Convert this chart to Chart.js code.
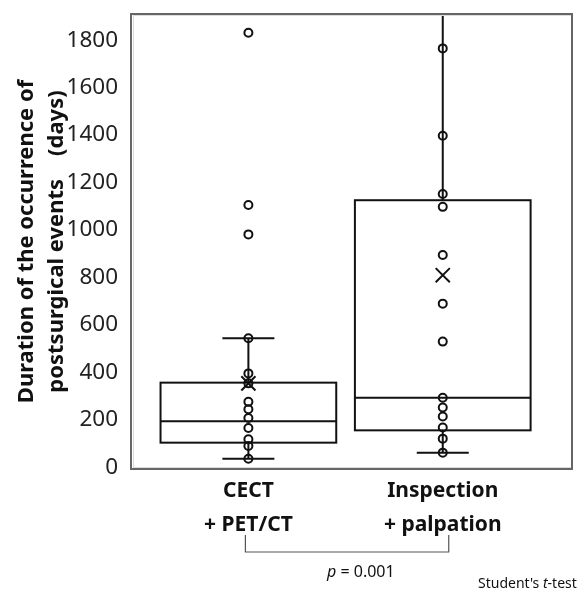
<!DOCTYPE html>
<html>
<head>
<meta charset="utf-8">
<script src="https://cdn.jsdelivr.net/npm/chart.js@4.4.1/dist/chart.umd.min.js"></script>
<style>
  html, body { margin: 0; padding: 0; background: #fff; }
  #wrap { width: 584px; height: 593px; }
</style>
</head>
<body>
<div id="wrap"><canvas id="boxChart"></canvas></div>
<script>
// Grupos y valores
const categories = [['CECT', '+ PET/CT'], ['Inspection', '+ palpation']];
const cectPoints = [1831, 1105, 981, 543, 395, 353, 275, 244, 207, 165, 117, 89, 35];
const inspectionPoints = [1765, 1397, 1151, 1097, 894, 689, 529, 292, 251, 213, 167, 120, 61];
const q1 = [103, 155];
const median = [193, 292];
const q3 = [356, 1125];
const whiskerLow = [35, 61];
const whiskerHigh = [543, 1960];
const means = [353, 809];
const yTicks = [0, 200, 400, 600, 800, 1000, 1200, 1400, 1600, 1800];
const pValue = '0.001';

const BOX_HALF = 0.452;   // media anchura de la caja (unidades de x)
const CAP_HALF = 26;      // media anchura de los bigotes (px)

// Plugin para dibujar cajas, bigotes, marco y anotaciones
const boxPlugin = {
    id: 'boxPlugin',
    beforeDatasetsDraw(chart) {
        const { ctx, chartArea, scales: { x, y } } = chart;
        ctx.save();
        ctx.beginPath();
        ctx.rect(chartArea.left, chartArea.top, chartArea.right - chartArea.left, chartArea.bottom - chartArea.top);
        ctx.clip();
        ctx.strokeStyle = '#111';
        ctx.lineWidth = 2;
        for (let i = 0; i < q1.length; i++) {
            const cx = x.getPixelForValue(i + 1);
            const left = x.getPixelForValue(i + 1 - BOX_HALF);
            const right = x.getPixelForValue(i + 1 + BOX_HALF);
            const top = y.getPixelForValue(q3[i]);
            const bottom = y.getPixelForValue(q1[i]);
            const med = y.getPixelForValue(median[i]);
            const lo = y.getPixelForValue(whiskerLow[i]);
            const hi = y.getPixelForValue(whiskerHigh[i]);

            ctx.strokeRect(left, top, right - left, bottom - top);
            ctx.beginPath();
            ctx.moveTo(left, med);
            ctx.lineTo(right, med);
            // bigotes
            ctx.moveTo(cx, top);
            ctx.lineTo(cx, hi);
            ctx.moveTo(cx - CAP_HALF, hi);
            ctx.lineTo(cx + CAP_HALF, hi);
            ctx.moveTo(cx, bottom);
            ctx.lineTo(cx, lo);
            ctx.moveTo(cx - CAP_HALF, lo);
            ctx.lineTo(cx + CAP_HALF, lo);
            ctx.stroke();
        }
        ctx.restore();
    },
    afterDraw(chart) {
        const { ctx, chartArea, scales: { x } } = chart;
        ctx.save();
        // marco del área
        ctx.strokeStyle = '#dcdcdc';
        ctx.lineWidth = 1;
        ctx.strokeRect(chartArea.left + 2.5, chartArea.top + 1.5, chartArea.right - chartArea.left - 3, chartArea.bottom - chartArea.top - 3);
        ctx.strokeStyle = '#666';
        ctx.lineWidth = 2;
        ctx.strokeRect(chartArea.left, chartArea.top, chartArea.right - chartArea.left, chartArea.bottom - chartArea.top);

        // corchete de comparación
        const x1 = x.getPixelForValue(1) - 3;
        const x2 = x.getPixelForValue(2) + 6;
        ctx.strokeStyle = '#555';
        ctx.lineWidth = 1.2;
        ctx.beginPath();
        ctx.moveTo(x1, 535);
        ctx.lineTo(x1, 552);
        ctx.lineTo(x2, 552);
        ctx.lineTo(x2, 535);
        ctx.stroke();

        // texto p
        ctx.fillStyle = '#111';
        ctx.textBaseline = 'middle';
        ctx.textAlign = 'left';
        ctx.font = 'italic 16px "Noto Sans"';
        let px = 327;
        ctx.fillText('p', px, 572);
        px += ctx.measureText('p').width;
        ctx.font = '16px "Noto Sans"';
        ctx.fillText(' = ' + pValue, px, 572);

        // nota de la prueba
        ctx.font = '14px "Noto Sans"';
        let sx = 478;
        ctx.fillText("Student's ", sx, 584);
        sx += ctx.measureText("Student's ").width;
        ctx.font = 'italic 14px "Noto Sans"';
        ctx.fillText('t', sx, 584);
        sx += ctx.measureText('t').width;
        ctx.font = '14px "Noto Sans"';
        ctx.fillText('-test', sx, 584);
        ctx.restore();
    }
};

const pointData = [
    ...cectPoints.map(v => ({ x: 1, y: v })),
    ...inspectionPoints.map(v => ({ x: 2, y: v }))
];

const ctx = document.getElementById('boxChart').getContext('2d');
const boxChart = new Chart(ctx, {
    type: 'scatter',
    data: {
        datasets: [{
            label: 'Valores',
            data: pointData,
            pointStyle: 'circle',
            pointRadius: 4,
            pointBorderWidth: 2,
            borderColor: '#111',
            backgroundColor: 'rgba(0,0,0,0)'
        }, {
            label: 'Media',
            data: means.map((v, i) => ({ x: i + 1, y: v })),
            pointStyle: 'crossRot',
            pointRadius: 10,
            pointBorderWidth: 2,
            borderColor: '#111',
            backgroundColor: '#111'
        }]
    },
    options: {
        responsive: true,
        maintainAspectRatio: false,
        animation: false,
        layout: { padding: { top: 14, right: 6, left: 0, bottom: 0 } },
        plugins: {
            legend: { display: false },
            tooltip: { enabled: false }
        },
        scales: {
            x: {
                type: 'linear',
                min: 0.396,
                max: 2.665,
                grid: { display: false, drawTicks: false },
                border: { display: false },
                afterBuildTicks: (scale) => {
                    scale.ticks = categories.map((c, i) => ({ value: i + 1 }));
                },
                afterFit: (scale) => {
                    scale.height = 124;
                    scale.paddingLeft = 0;
                    scale.paddingRight = 0;
                },
                ticks: {
                    padding: 5,
                    color: '#111',
                    font: { family: 'Noto Sans', size: 21, weight: 'bold', lineHeight: 1.62 },
                    maxRotation: 0,
                    callback: (value) => categories[Math.round(value) - 1]
                }
            },
            y: {
                min: -8,
                max: 1910,
                grid: { display: false, drawTicks: false },
                border: { display: false },
                afterBuildTicks: (scale) => {
                    scale.ticks = yTicks.map(v => ({ value: v }));
                },
                afterFit: (scale) => {
                    scale.width = 131;
                    scale.paddingTop = 0;
                    scale.paddingBottom = 0;
                },
                ticks: {
                    padding: 13,
                    color: '#222',
                    font: { family: 'Noto Sans', size: 22.5 },
                    callback: (value) => String(value)
                },
                title: {
                    display: true,
                    text: ['Duration of the occurrence of', 'postsurgical events    (days)'],
                    color: '#111',
                    padding: { top: 12, bottom: 0 },
                    font: { family: 'Noto Sans', size: 22, weight: 'bold', lineHeight: 1.36 }
                }
            }
        }
    },
    plugins: [boxPlugin]
});
</script>
</body>
</html>
